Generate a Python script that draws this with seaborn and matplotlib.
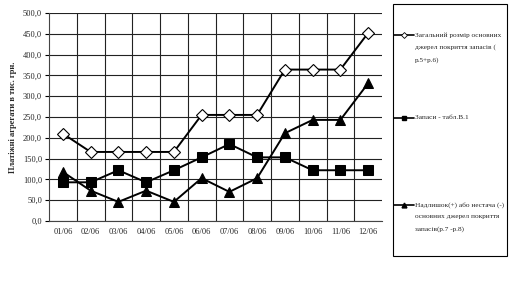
import matplotlib
matplotlib.use("Agg")
import matplotlib.pyplot as plt
import seaborn as sns
import pandas as pd
from matplotlib.patches import Rectangle
from matplotlib.lines import Line2D
from matplotlib.ticker import MultipleLocator, FuncFormatter

months = ["01/06", "02/06", "03/06", "04/06", "05/06", "06/06",
          "07/06", "08/06", "09/06", "10/06", "11/06", "12/06"]
total_sources = [210, 166, 166, 166, 166, 255, 255, 255, 364, 364, 364, 452]
inventory = [93, 93, 122, 93, 122, 153, 185, 153, 153, 122, 122, 122]
surplus = [118, 73, 46, 73, 46, 103, 70, 103, 211, 243, 243, 331]

label_total = "Загальний розмір основних\nджерел покриття запасів (\nр.5+р.6)"
label_inv = "Запаси - табл.В.1"
label_surplus = "Надлишок(+) або нестача (-)\nосновних джерел покриття\nзапасів(р.7 -р.8)"
y_label = "Платіжні агрегати в тис. грн."

sns.set_style("white")
plt.rcParams["font.family"] = ["Liberation Serif", "DejaVu Serif"]

fig = plt.figure(figsize=(5.12, 2.88), dpi=100)
ax = fig.add_axes([49 / 512, 1 - 221 / 288, (382 - 49) / 512, (221 - 13) / 288])

x = list(range(len(months)))
df = pd.DataFrame({"x": x, "total": total_sources, "inv": inventory, "sur": surplus})

sns.lineplot(data=df, x="x", y="total", ax=ax, color="black", lw=1.4,
             marker="D", markersize=6, markerfacecolor="white",
             markeredgecolor="black", markeredgewidth=0.8)
sns.lineplot(data=df, x="x", y="inv", ax=ax, color="black", lw=1.4,
             marker="s", markersize=7, markerfacecolor="black",
             markeredgecolor="black")
sns.lineplot(data=df, x="x", y="sur", ax=ax, color="black", lw=1.4,
             marker="^", markersize=6.5, markerfacecolor="black",
             markeredgecolor="black")

ax.set_xlim(-0.5, len(months) - 0.5)
ax.set_ylim(0, 500)
ax.set_xticks(x)
ax.set_xticklabels(months)
ax.set_xticks([i + 0.5 for i in range(len(months) - 1)], minor=True)
ax.yaxis.set_major_locator(MultipleLocator(50))
ax.yaxis.set_major_formatter(FuncFormatter(lambda v, p: f"{v:.1f}".replace(".", ",")))
ax.grid(True, which="major", axis="y", color="#222222", lw=0.8)
ax.grid(True, which="minor", axis="x", color="#222222", lw=0.8)
ax.grid(False, which="major", axis="x")
ax.tick_params(axis="both", which="major", labelsize=6, length=3, pad=2, color="black")
ax.tick_params(axis="x", which="major", length=0, pad=5)
ax.tick_params(axis="x", which="minor", length=0)
ax.tick_params(axis="y", left=True)
for s in ["top", "right"]:
    ax.spines[s].set_visible(False)
for s in ["left", "bottom"]:
    ax.spines[s].set_color("#444444")
    ax.spines[s].set_linewidth(0.8)
ax.set_xlabel("")
ax.set_ylabel(y_label, fontsize=6, fontweight="bold", labelpad=4)

# Legend frame
fig.patches.append(Rectangle((393 / 512, 1 - 256 / 288), (507 - 393) / 512, (256 - 4) / 288,
                             transform=fig.transFigure, fill=False, edgecolor="black", lw=0.8))

entries = [
    (Line2D([], [], color="black", lw=1.2, marker="D", markersize=3,
            markerfacecolor="white", markeredgecolor="black", markeredgewidth=0.6), label_total, 28),
    (Line2D([], [], color="black", lw=1.2, marker="s", markersize=3.5,
            markerfacecolor="black"), label_inv, 111),
    (Line2D([], [], color="black", lw=1.2, marker="^", markersize=3.5,
            markerfacecolor="black"), label_surplus, 198),
]
for handle, lab, ypix in entries:
    leg = fig.legend([handle], [lab], loc="upper left",
                     bbox_to_anchor=(390 / 512, 1 - ypix / 288), frameon=False,
                     fontsize=5.2, handlelength=2.7, handletextpad=0.15, borderpad=0.1)
    for t in leg.get_texts():
        t.set_linespacing(2.5)
    for col in leg._legend_handle_box.get_children():
        for item in col.get_children():
            item.align = "top"

fig.savefig("out.png", dpi=100, facecolor="white")
